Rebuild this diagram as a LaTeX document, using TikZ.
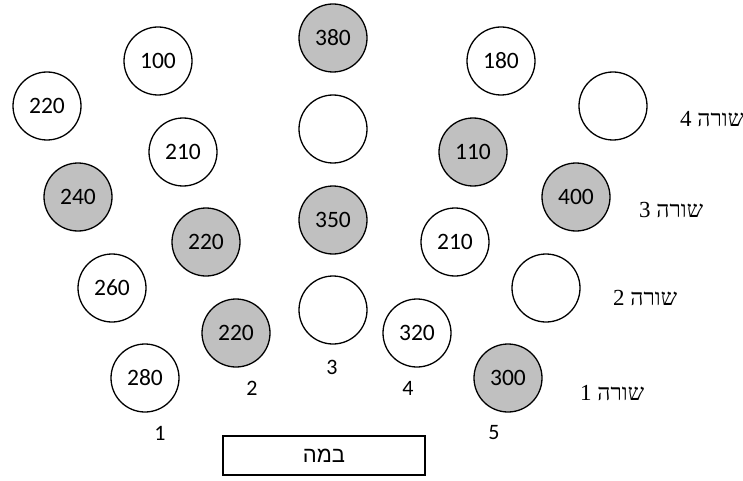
\documentclass[tikz,border=0pt]{standalone}
\usepackage{fontspec}
\setmainfont{Carlito}
\newfontfamily\hebserif[Script=Hebrew]{Liberation Serif}
\newfontfamily\hebsans[Script=Hebrew]{Liberation Sans}
\TeXXeTstate=1
\definecolor{seatgray}{RGB}{192,192,192}
\begin{document}
\begin{tikzpicture}[x=1pt,y=1pt,
  seat/.style={circle,draw,line width=1.3pt,minimum size=68pt,inner sep=0pt,font=\fontsize{23.5}{26}\selectfont},
  taken/.style={seat,fill=seatgray},
  collabel/.style={font=\fontsize{22}{26}\selectfont},
  rowlabel/.style={font=\hebserif\fontsize{23}{26}\selectfont},
  stagebox/.style={draw,line width=2.5pt,minimum width=202pt,minimum height=39pt,inner sep=0pt,font=\hebsans\fontsize{22}{26}\selectfont}]
\useasboundingbox (0,0) rectangle (743,480);
% column 1
\node[seat]  (c1r1) at (145,102) {280};
\node[seat]  (c1r2) at (112,192) {260};
\node[taken] (c1r3) at (78,283)  {240};
\node[seat]  (c1r4) at (47,374)  {220};
% column 2
\node[taken] (c2r1) at (236,147) {220};
\node[taken] (c2r2) at (206,238) {220};
\node[seat]  (c2r3) at (183,328) {210};
\node[seat]  (c2r4) at (158,419) {100};
% column 3
\node[seat]  (c3r1) at (333,170) {};
\node[taken] (c3r2) at (333,260) {350};
\node[seat]  (c3r3) at (333,351) {};
\node[taken] (c3r4) at (333,442) {380};
% column 4
\node[seat]  (c4r1) at (417,147) {320};
\node[seat]  (c4r2) at (455,238) {210};
\node[taken] (c4r3) at (473,328) {110};
\node[seat]  (c4r4) at (501,419) {180};
% column 5
\node[taken] (c5r1) at (508,102) {300};
\node[seat]  (c5r2) at (546,192) {};
\node[taken] (c5r3) at (576,283) {400};
\node[seat]  (c5r4) at (613,374) {};
% column labels
\node[collabel] (l1) at (160,47)  {1};
\node[collabel] (l2) at (252,92)  {2};
\node[collabel] (l3) at (332,113) {3};
\node[collabel] (l4) at (408,92)  {4};
\node[collabel] (l5) at (494,47)  {5};
% row labels
\node[rowlabel,anchor=west,inner sep=0pt] (r1) at (580,87)  {\beginR שורה 1\endR};
\node[rowlabel,anchor=west,inner sep=0pt] (r2) at (613,182) {\beginR שורה 2\endR};
\node[rowlabel,anchor=west,inner sep=0pt] (r3) at (639,270) {\beginR שורה 3\endR};
\node[rowlabel,anchor=west,inner sep=0pt] (r4) at (680,361) {\beginR שורה 4\endR};
% stage
\node[stagebox] (stage) at (324,24.5) {\beginR במה\endR};
\end{tikzpicture}
\end{document}
